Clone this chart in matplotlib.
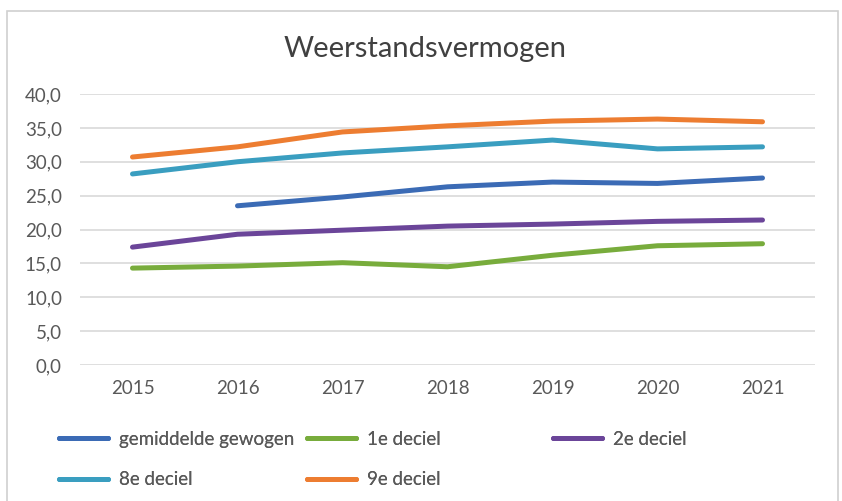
import numpy as np
import matplotlib
matplotlib.use("Agg")
import matplotlib.pyplot as plt
from matplotlib.patches import Rectangle

years = ["2015", "2016", "2017", "2018", "2019", "2020", "2021"]
gemiddelde = [np.nan, 23.5, 24.8, 26.3, 27.0, 26.8, 27.6]
deciel_1 = [14.3, 14.6, 15.1, 14.5, 16.2, 17.6, 17.9]
deciel_2 = [17.4, 19.3, 19.9, 20.5, 20.8, 21.2, 21.4]
deciel_8 = [28.2, 30.0, 31.3, 32.2, 33.2, 31.9, 32.2]
deciel_9 = [30.7, 32.2, 34.4, 35.3, 36.0, 36.3, 35.9]

plt.rcParams['font.family'] = ['Lato', 'DejaVu Sans']

fig = plt.figure(figsize=(8.42, 5.01), dpi=100)
fig.patches.append(Rectangle((7 / 842, -0.01), 831 / 842, 1 - 11 / 501 + 0.01,
                             transform=fig.transFigure, fill=False,
                             edgecolor="#d0d0d0", linewidth=1.2))

ax = fig.add_axes([80 / 842, 1 - 365 / 501, 735 / 842, 271 / 501])
x = np.arange(len(years))
series = [
    (gemiddelde, "gemiddelde gewogen", "#3b6bb5"),
    (deciel_1, "1e deciel", "#78ac3c"),
    (deciel_2, "2e deciel", "#6b4599"),
    (deciel_8, "8e deciel", "#3a9ec0"),
    (deciel_9, "9e deciel", "#ed7d31"),
]
lines = {}
for vals, label, color in series:
    ln, = ax.plot(x, vals, color=color, linewidth=3.6, solid_capstyle="round", label=label)
    lines[label] = ln

ax.set_xlim(-0.5, len(years) - 0.5)
ax.set_ylim(0, 40)
ax.set_yticks(np.arange(0, 41, 5))
ax.set_yticklabels([f"{v:.1f}".replace(".", ",") for v in np.arange(0, 41, 5)])
ax.set_xticks(x)
ax.set_xticklabels(years)
ax.grid(axis="y", color="#d9d9d9", linewidth=1.2)
ax.set_axisbelow(True)
for s in ax.spines.values():
    s.set_visible(False)
ax.tick_params(length=0, labelsize=13.5, colors="#595959")
ax.tick_params(axis="x", pad=11)
ax.tick_params(axis="y", pad=13)

fig.text(425 / 842, 1 - 49 / 501, "Weerstandsvermogen", ha="center", va="center",
         fontsize=21, color="#404040")

# legend in three columns like the excel one
cols = [(["gemiddelde gewogen", "8e deciel"], 59), (["1e deciel", "9e deciel"], 307), (["2e deciel"], 553)]
for names, xpix in cols:
    leg = fig.legend([lines[n] for n in names], names, loc="upper left",
                     bbox_to_anchor=(xpix / 842, 1 - 431 / 501), frameon=False,
                     fontsize=13.5, handlelength=2.6, handletextpad=0.6,
                     labelspacing=1.25, borderpad=0, borderaxespad=0,
                     labelcolor="#595959")
    fig.add_artist(leg)

fig.savefig("out.png", dpi=100)
